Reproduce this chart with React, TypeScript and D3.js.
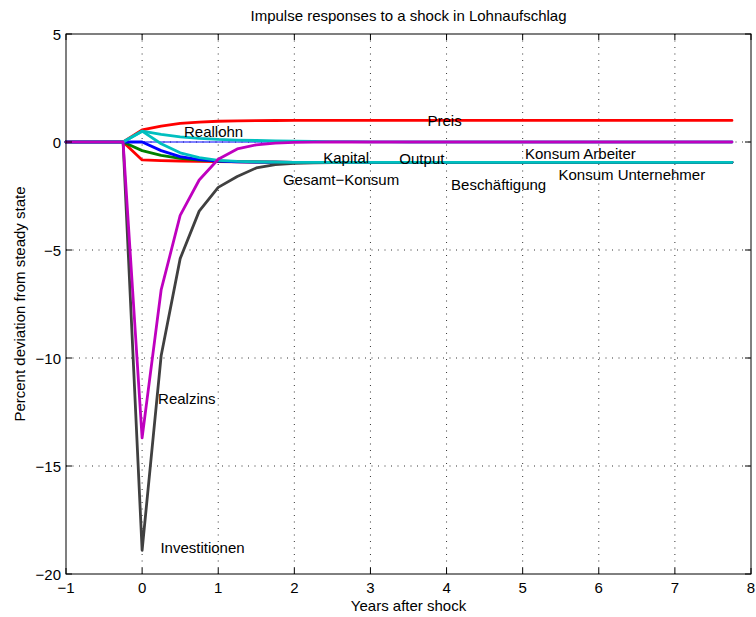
import React from 'react';
import * as d3 from 'd3';

// Quarterly time grid, in years relative to the shock
const years = d3.range(-1, 8, 0.25);

// Impulse responses, percent deviation from steady state
const preis = [
  0, 0, 0, 0, 0.56, 0.74, 0.86, 0.92, 0.96, 0.98, 0.99, 0.995,
  1, 1, 1, 1, 1, 1, 1, 1, 1, 1, 1, 1,
  1, 1, 1, 1, 1, 1, 1, 1, 1, 1, 1, 1,
];
const nullLinie = [
  0, 0, 0, 0, 0, 0, 0, 0, 0, 0, 0, 0,
  0, 0, 0, 0, 0, 0, 0, 0, 0, 0, 0, 0,
  0, 0, 0, 0, 0, 0, 0, 0, 0, 0, 0, 0,
];
const beschaeftigung = [
  0, 0, 0, 0, -0.83, -0.86, -0.88, -0.9, -0.91, -0.92, -0.93, -0.935,
  -0.94, -0.94, -0.94, -0.94, -0.94, -0.94, -0.94, -0.94, -0.94, -0.94, -0.94, -0.94,
  -0.94, -0.94, -0.94, -0.94, -0.94, -0.94, -0.94, -0.94, -0.94, -0.94, -0.94, -0.94,
];
const konsumArbeiter = [
  0, 0, 0, 0, -0.4, -0.62, -0.76, -0.84, -0.88, -0.91, -0.92, -0.93,
  -0.94, -0.94, -0.94, -0.94, -0.94, -0.94, -0.94, -0.94, -0.94, -0.94, -0.94, -0.94,
  -0.94, -0.94, -0.94, -0.94, -0.94, -0.94, -0.94, -0.94, -0.94, -0.94, -0.94, -0.94,
];
const output = [
  0, 0, 0, 0, 0, -0.4, -0.68, -0.82, -0.89, -0.92, -0.93, -0.935,
  -0.94, -0.94, -0.94, -0.94, -0.94, -0.94, -0.94, -0.94, -0.94, -0.94, -0.94, -0.94,
  -0.94, -0.94, -0.94, -0.94, -0.94, -0.94, -0.94, -0.94, -0.94, -0.94, -0.94, -0.94,
];
const investitionen = [
  0, 0, 0, 0, -18.9, -9.9, -5.4, -3.2, -2.1, -1.6, -1.2, -1.05,
  -0.99, -0.96, -0.95, -0.945, -0.94, -0.94, -0.94, -0.94, -0.94, -0.94, -0.94, -0.94,
  -0.94, -0.94, -0.94, -0.94, -0.94, -0.94, -0.94, -0.94, -0.94, -0.94, -0.94, -0.94,
];
const kapital = [
  0, 0, 0, 0, 0.5, -0.08, -0.5, -0.72, -0.85, -0.9, -0.92, -0.93,
  -0.94, -0.94, -0.94, -0.94, -0.94, -0.94, -0.94, -0.94, -0.94, -0.94, -0.94, -0.94,
  -0.94, -0.94, -0.94, -0.94, -0.94, -0.94, -0.94, -0.94, -0.94, -0.94, -0.94, -0.94,
];
const reallohn = [
  0, 0, 0, 0, 0.5, 0.35, 0.24, 0.17, 0.12, 0.09, 0.07, 0.05,
  0.04, 0.03, 0.02, 0.015, 0.01, 0.005, 0, 0, 0, 0, 0, 0,
  0, 0, 0, 0, 0, 0, 0, 0, 0, 0, 0, 0,
];
const realzins = [
  0, 0, 0, 0, -13.7, -6.85, -3.4, -1.76, -0.8, -0.32, -0.13, -0.05,
  -0.02, -0.01, 0, 0, 0, 0, 0, 0, 0, 0, 0, 0,
  0, 0, 0, 0, 0, 0, 0, 0, 0, 0, 0, 0,
];

// Draw order: later entries sit on top
const series = [
  { name: 'nullLinie', values: nullLinie, color: '#0000ff', width: 1 },
  { name: 'preis', values: preis, color: '#ff0000', width: 2.8 },
  { name: 'beschaeftigung', values: beschaeftigung, color: '#ff0000', width: 2.8 },
  { name: 'konsumArbeiter', values: konsumArbeiter, color: '#008000', width: 2.8 },
  { name: 'output', values: output, color: '#0000ff', width: 2.8 },
  { name: 'investitionen', values: investitionen, color: '#404040', width: 2.8 },
  { name: 'kapital', values: kapital, color: '#00bfbf', width: 2.8 },
  { name: 'reallohn', values: reallohn, color: '#00bfbf', width: 2.8 },
  { name: 'realzins', values: realzins, color: '#bf00bf', width: 2.8 },
];

const xTicks = [-1, 0, 1, 2, 3, 4, 5, 6, 7, 8];
const yTicks = [-20, -15, -10, -5, 0, 5];

// Text annotations anchored at (year, baseline value)
const labels = [
  { text: 'Preis', x: 3.75, y: 0.74 },
  { text: 'Reallohn', x: 0.55, y: 0.23 },
  { text: 'Kapital', x: 2.38, y: -0.97 },
  { text: 'Output', x: 3.38, y: -1.02 },
  { text: 'Gesamt\u2212Konsum', x: 1.85, y: -1.99 },
  { text: 'Beschäftigung', x: 4.06, y: -2.22 },
  { text: 'Konsum Arbeiter', x: 5.03, y: -0.79 },
  { text: 'Konsum Unternehmer', x: 5.47, y: -1.76 },
  { text: 'Realzins', x: 0.21, y: -12.13 },
  { text: 'Investitionen', x: 0.24, y: -19.03 },
];

const W = 756;
const H = 617;
const M = { left: 66, right: 5, top: 34, bottom: 43 };
const FONT = '"Liberation Sans", Arial, Helvetica, sans-serif';
const FS = 15;

const fmt = (v: number) => (v < 0 ? '\u2212' + Math.abs(v) : String(v));

export default function App() {
  const x = d3.scaleLinear().domain([-1, 8]).range([M.left, W - M.right]);
  const y = d3.scaleLinear().domain([-20, 5]).range([H - M.bottom, M.top]);
  const line = d3
    .line<number>()
    .x((_, i) => x(years[i]))
    .y((d) => y(d));

  const x0 = x(-1);
  const x1 = x(8);
  const y0 = y(-20);
  const y1 = y(5);
  const tick = 6;

  return (
    <svg
      width={W}
      height={H}
      style={{ position: 'absolute', left: 0, top: 0, background: '#fff' }}
      fontFamily={FONT}
      fontSize={FS}
    >
      <rect x={0} y={0} width={W} height={H} fill="#fff" />

      {/* dotted grid */}
      <g stroke="#333" strokeWidth={1} strokeDasharray="1,5.5">
        {xTicks.slice(1, -1).map((t) => (
          <line key={'gx' + t} x1={x(t)} x2={x(t)} y1={y1} y2={y0} />
        ))}
        {yTicks.slice(1, -1).map((t) => (
          <line key={'gy' + t} x1={x0} x2={x1} y1={y(t)} y2={y(t)} />
        ))}
      </g>

      {/* response curves */}
      <g fill="none" strokeLinejoin="round" strokeLinecap="round">
        {series.map((s) => (
          <path key={s.name} d={line(s.values) || ''} stroke={s.color} strokeWidth={s.width} />
        ))}
      </g>

      {/* axes box and inward ticks */}
      <rect x={x0} y={y1} width={x1 - x0} height={y0 - y1} fill="none" stroke="#000" strokeWidth={1} />
      <g stroke="#000" strokeWidth={1}>
        {xTicks.map((t) => (
          <g key={'tx' + t}>
            <line x1={x(t)} x2={x(t)} y1={y0} y2={y0 - tick} />
            <line x1={x(t)} x2={x(t)} y1={y1} y2={y1 + tick} />
          </g>
        ))}
        {yTicks.map((t) => (
          <g key={'ty' + t}>
            <line x1={x0} x2={x0 + tick} y1={y(t)} y2={y(t)} />
            <line x1={x1} x2={x1 - tick} y1={y(t)} y2={y(t)} />
          </g>
        ))}
      </g>

      {/* tick labels */}
      {xTicks.map((t) => (
        <text key={'lx' + t} x={x(t)} y={y0 + 19} textAnchor="middle" fill="#000">
          {fmt(t)}
        </text>
      ))}
      {yTicks.map((t) => (
        <text key={'ly' + t} x={x0 - 5} y={y(t) + 5.5} textAnchor="end" fill="#000">
          {fmt(t)}
        </text>
      ))}

      {/* annotations */}
      {labels.map((l) => (
        <text key={l.text} x={x(l.x)} y={y(l.y)} fill="#000">
          {l.text}
        </text>
      ))}

      <text x={(x0 + x1) / 2} y={21} textAnchor="middle" fill="#000">
        Impulse responses to a shock in Lohnaufschlag
      </text>
      <text x={(x0 + x1) / 2} y={611} textAnchor="middle" fill="#000">
        Years after shock
      </text>
      <text
        transform={`translate(25, ${(y0 + y1) / 2}) rotate(-90)`}
        textAnchor="middle"
        fill="#000"
      >
        Percent deviation from steady state
      </text>
    </svg>
  );
}
